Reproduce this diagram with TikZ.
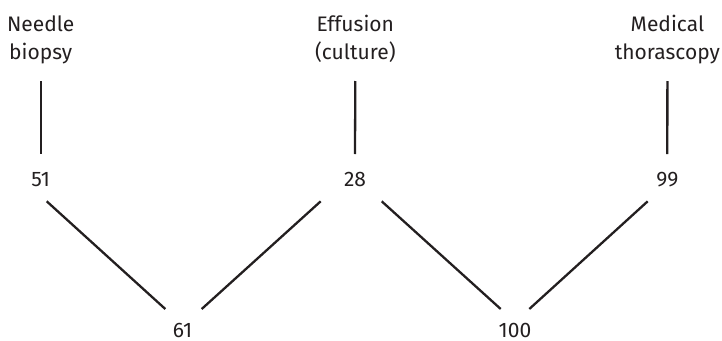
\documentclass[tikz,border=0pt]{standalone}
\usepackage{fontspec}
\setmainfont{Fira Sans}
\definecolor{ink}{HTML}{231F20}
\begin{document}
\begin{tikzpicture}[x=1pt,y=-1pt,
  lbl/.style={anchor=base,inner sep=0pt,align=center,text=ink,
              font={\fontsize{21}{27.7}\selectfont}},
  num/.style={anchor=base,inner sep=0pt,text=ink,
              font={\fontsize{21}{25}\selectfont}},
  link/.style={draw=ink,line width=2.3pt}]
\useasboundingbox (0,0) rectangle (722,340);

% method labels (base = baseline of the lower line)
\node[lbl] (nb) at (40.7,59.3)  {Needle\\biopsy};
\node[lbl] (ef) at (355.3,59.3) {Effusion\\(culture)};
\node[lbl] (mt) at (667.4,59.3) {Medical\\thorascopy};

% counts
\node[num] (n51) at (40.7,186.7)  {51};
\node[num] (n28) at (355.0,186.7) {28};
\node[num] (n99) at (667.3,186.7) {99};
\node[num] (n61) at (182.6,337.3) {61};
\node[num] (n100) at (515.0,337.3) {100};

% vertical links
\draw[link] ([shift={(0,21.7)}]nb.base) -- ([shift={(0,-32.7)}]n51.base);
\draw[link] ([shift={(0,21.7)}]ef.base) -- ([shift={(0,-32.7)}]n28.base);
\draw[link] ([shift={(0,21.7)}]mt.base) -- ([shift={(0,-32.7)}]n99.base);

% diagonal links
\draw[link] ([shift={(6,14.6)}]n51.base)    -- ([shift={(-17.3,-28.3)}]n61.base);
\draw[link] ([shift={(-34.3,14.6)}]n28.base) -- ([shift={(19.1,-28.3)}]n61.base);
\draw[link] ([shift={(26.7,14.6)}]n28.base)  -- ([shift={(-14.3,-28.3)}]n100.base);
\draw[link] ([shift={(-19.6,14.6)}]n99.base) -- ([shift={(14.3,-28.3)}]n100.base);
\end{tikzpicture}
\end{document}
